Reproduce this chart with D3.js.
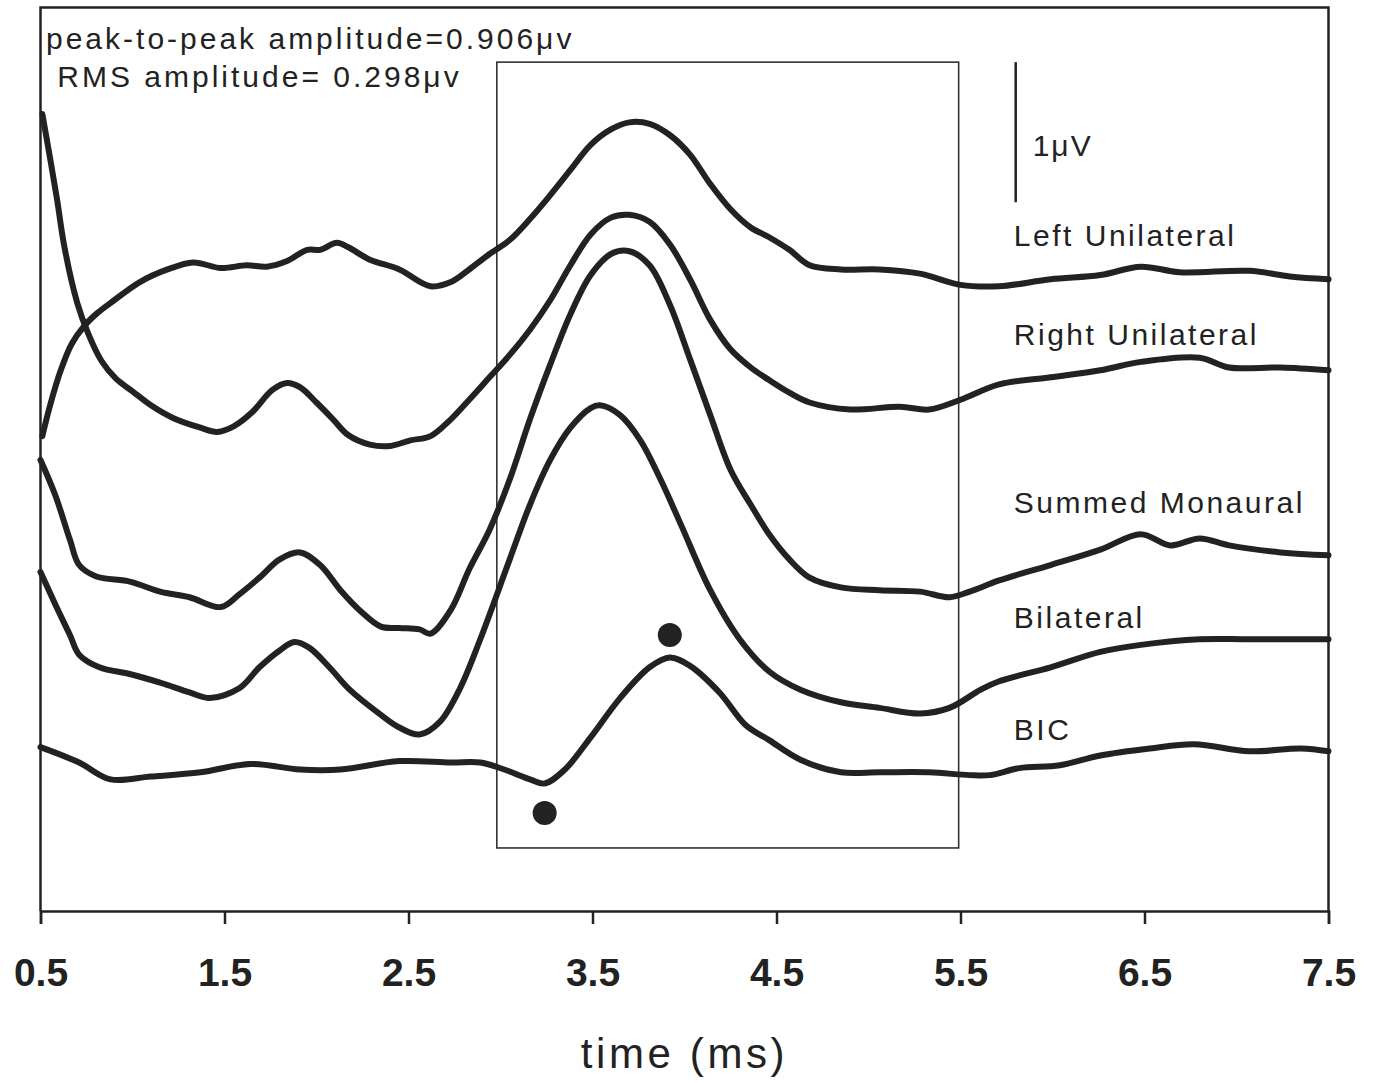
<!DOCTYPE html>
<html>
<head>
<meta charset="utf-8">
<script src="https://cdn.jsdelivr.net/npm/d3@7"></script>
<style>
  body { margin: 0; background: #fff; }
  svg text { font-family: "Liberation Sans", Arial, sans-serif; fill: #222; }
</style>
</head>
<body>
<svg id="chart"></svg>
<script>
// time in ms, amplitude in microvolts
const leftUnilateral = [
  [0.51, 3.39], [0.55, 3.60], [0.61, 3.86], [0.67, 4.05], [0.74, 4.18], [0.81, 4.27],
  [0.88, 4.34], [1.04, 4.49], [1.19, 4.58], [1.33, 4.63], [1.48, 4.59], [1.62, 4.61],
  [1.73, 4.60], [1.84, 4.64], [1.95, 4.72], [2.02, 4.72], [2.11, 4.77], [2.17, 4.74],
  [2.29, 4.65], [2.45, 4.58], [2.62, 4.46], [2.73, 4.49], [2.83, 4.58], [2.94, 4.69],
  [3.05, 4.79], [3.16, 4.94], [3.27, 5.11], [3.38, 5.29], [3.49, 5.47], [3.60, 5.58],
  [3.70, 5.63], [3.81, 5.62], [3.92, 5.54], [4.03, 5.40], [4.14, 5.19], [4.25, 5.01],
  [4.36, 4.88], [4.46, 4.81], [4.57, 4.72], [4.68, 4.61], [4.85, 4.58], [5.06, 4.58],
  [5.28, 4.55], [5.50, 4.47], [5.71, 4.46], [5.99, 4.51], [6.26, 4.54], [6.48, 4.60],
  [6.69, 4.56], [7.07, 4.57], [7.29, 4.53], [7.50, 4.51]
];

const rightUnilateral = [
  [0.51, 5.69], [0.55, 5.39], [0.59, 5.08], [0.63, 4.74], [0.70, 4.34], [0.76, 4.12],
  [0.83, 3.93], [0.91, 3.80], [1.00, 3.71], [1.10, 3.61], [1.22, 3.52], [1.37, 3.45],
  [1.46, 3.42], [1.55, 3.46], [1.65, 3.56], [1.76, 3.72], [1.84, 3.77], [1.91, 3.74],
  [2.00, 3.63], [2.09, 3.51], [2.17, 3.40], [2.29, 3.33], [2.40, 3.32], [2.51, 3.36],
  [2.62, 3.39], [2.73, 3.51], [2.83, 3.65], [2.94, 3.81], [3.05, 3.97], [3.16, 4.15],
  [3.27, 4.36], [3.38, 4.61], [3.49, 4.83], [3.60, 4.95], [3.70, 4.97], [3.81, 4.92],
  [3.92, 4.76], [4.03, 4.51], [4.14, 4.22], [4.25, 4.01], [4.36, 3.88], [4.46, 3.79],
  [4.57, 3.70], [4.68, 3.63], [4.90, 3.58], [5.17, 3.60], [5.33, 3.58], [5.50, 3.65],
  [5.71, 3.76], [5.99, 3.81], [6.26, 3.86], [6.48, 3.92], [6.80, 3.95], [6.96, 3.88],
  [7.24, 3.88], [7.50, 3.86]
];

const summedMonaural = [
  [0.50, 3.22], [0.58, 2.97], [0.66, 2.65], [0.71, 2.47], [0.80, 2.39], [0.99, 2.35],
  [1.15, 2.28], [1.31, 2.24], [1.48, 2.17], [1.58, 2.26], [1.69, 2.38], [1.80, 2.51],
  [1.91, 2.56], [2.02, 2.47], [2.13, 2.29], [2.24, 2.14], [2.35, 2.03], [2.45, 2.02],
  [2.56, 2.01], [2.62, 1.98], [2.73, 2.15], [2.83, 2.44], [2.94, 2.72], [3.05, 3.08],
  [3.16, 3.51], [3.27, 3.90], [3.38, 4.26], [3.49, 4.54], [3.60, 4.69], [3.70, 4.71],
  [3.81, 4.61], [3.92, 4.33], [4.03, 3.94], [4.14, 3.54], [4.25, 3.15], [4.36, 2.90],
  [4.46, 2.69], [4.57, 2.51], [4.68, 2.38], [4.85, 2.31], [5.06, 2.29], [5.28, 2.28],
  [5.44, 2.24], [5.55, 2.28], [5.71, 2.36], [5.99, 2.47], [6.26, 2.58], [6.48, 2.69],
  [6.64, 2.61], [6.80, 2.66], [6.96, 2.61], [7.24, 2.56], [7.50, 2.54]
];

const bilateral = [
  [0.50, 2.42], [0.58, 2.19], [0.66, 1.97], [0.71, 1.83], [0.82, 1.74], [0.99, 1.69],
  [1.15, 1.63], [1.31, 1.56], [1.42, 1.52], [1.58, 1.59], [1.69, 1.74], [1.80, 1.86],
  [1.88, 1.92], [1.96, 1.88], [2.07, 1.74], [2.18, 1.58], [2.35, 1.40], [2.45, 1.31],
  [2.56, 1.26], [2.67, 1.35], [2.78, 1.59], [2.89, 1.94], [3.05, 2.51], [3.16, 2.90],
  [3.27, 3.22], [3.38, 3.45], [3.49, 3.59], [3.54, 3.61], [3.65, 3.54], [3.76, 3.36],
  [3.87, 3.08], [3.98, 2.76], [4.14, 2.29], [4.30, 1.94], [4.46, 1.71], [4.63, 1.58],
  [4.85, 1.49], [5.06, 1.45], [5.28, 1.41], [5.44, 1.45], [5.61, 1.58], [5.71, 1.64],
  [5.99, 1.74], [6.26, 1.85], [6.48, 1.90], [6.80, 1.94], [7.07, 1.94], [7.50, 1.94]
];

const bic = [
  [0.50, 1.17], [0.71, 1.06], [0.88, 0.94], [1.10, 0.96], [1.37, 0.99], [1.64, 1.05],
  [1.91, 1.01], [2.13, 1.01], [2.45, 1.07], [2.73, 1.06], [2.89, 1.06], [3.02, 1.01],
  [3.16, 0.94], [3.24, 0.91], [3.35, 1.01], [3.49, 1.24], [3.65, 1.52], [3.81, 1.74],
  [3.92, 1.81], [4.03, 1.75], [4.19, 1.56], [4.33, 1.33], [4.46, 1.22], [4.63, 1.08],
  [4.85, 0.99], [5.06, 0.99], [5.33, 0.99], [5.55, 0.97], [5.66, 0.97], [5.82, 1.02],
  [6.04, 1.04], [6.26, 1.11], [6.53, 1.16], [6.77, 1.19], [7.07, 1.14], [7.35, 1.16],
  [7.50, 1.14]
];

// BIC trough and peak markers
const bicMarkers = [[3.24, 0.70], [3.92, 1.97]];

// analysis window (ms) and its amplitude extent
const windowTime = [2.98, 5.49];
const windowAmp = [0.45, 6.06];

// 1 uV scale bar
const scaleBarTime = 5.80;
const scaleBarAmp = [5.06, 6.06];

const seriesNames = ["Left Unilateral", "Right Unilateral", "Summed Monaural", "Bilateral", "BIC"];
const tickValues = [0.5, 1.5, 2.5, 3.5, 4.5, 5.5, 6.5, 7.5];
const notes = ["peak-to-peak amplitude=0.906\u03bcv", " RMS amplitude= 0.298\u03bcv"];

var w = 1374,
    h = 1083;

var margin = { top: 7.5, left: 40.5, right: 1328.5, bottom: 911 };

var svg = d3.select("#chart")
  .attr("width", w)
  .attr("height", h);

svg.append("rect")
  .attr("width", w)
  .attr("height", h)
  .attr("fill", "#fff");

var x = d3.scaleLinear()
  .domain([0.5, 7.5])
  .range([margin.left, margin.right]);

// y has no drawn axis; 1 uV is 140px in the original
var y = d3.scaleLinear()
  .domain([0, 6.45])
  .range([margin.bottom, margin.top]);

// FRAME
svg.append("path")
  .attr("d", "M" + margin.left + "," + margin.bottom + "V" + margin.top + "H" + margin.right + "V" + margin.bottom)
  .attr("fill", "none")
  .attr("stroke", "#222")
  .attr("stroke-width", 2.5);

// X AXIS
var xAxis = d3.axisBottom(x)
  .tickValues(tickValues)
  .tickFormat(d3.format(".1f"))
  .tickSize(13)
  .tickPadding(34);

var gx = svg.append("g")
  .attr("transform", "translate(0," + margin.bottom + ")")
  .call(xAxis);

gx.select(".domain").attr("stroke", "#222").attr("stroke-width", 2.5);
gx.selectAll(".tick line").attr("stroke", "#222").attr("stroke-width", 2.5);
gx.selectAll(".tick text")
  .attr("fill", "#222")
  .style("font-family", "'Liberation Sans', Arial, sans-serif")
  .style("font-size", "39px")
  .style("font-weight", "bold");

svg.append("text")
  .attr("x", x(4.0))
  .attr("y", 1068)
  .attr("text-anchor", "middle")
  .style("font-size", "42px")
  .style("letter-spacing", "3.6px")
  .text("time (ms)");

// ANALYSIS WINDOW
svg.append("rect")
  .attr("x", x(windowTime[0]))
  .attr("y", y(windowAmp[1]))
  .attr("width", x(windowTime[1]) - x(windowTime[0]))
  .attr("height", y(windowAmp[0]) - y(windowAmp[1]))
  .attr("fill", "none")
  .attr("stroke", "#333")
  .attr("stroke-width", 1.6);

// TRACES
var line = d3.line()
  .x(function(d) { return x(d[0]); })
  .y(function(d) { return y(d[1]); })
  .curve(d3.curveCatmullRom.alpha(0.5));

var traces = [leftUnilateral, rightUnilateral, summedMonaural, bilateral, bic];

svg.selectAll(".trace")
  .data(traces)
  .enter().append("path")
    .attr("class", "trace")
    .attr("d", line)
    .attr("fill", "none")
    .attr("stroke", "#222")
    .attr("stroke-width", 6)
    .attr("stroke-linecap", "round")
    .attr("stroke-linejoin", "round");

svg.selectAll(".marker")
  .data(bicMarkers)
  .enter().append("circle")
    .attr("class", "marker")
    .attr("cx", function(d) { return x(d[0]); })
    .attr("cy", function(d) { return y(d[1]); })
    .attr("r", 12)
    .attr("fill", "#222");

// SERIES LABELS (baseline amplitude for each name)
var labelAmp = [4.75, 4.04, 2.84, 2.02, 1.22];

svg.selectAll(".series-label")
  .data(seriesNames)
  .enter().append("text")
    .attr("class", "series-label")
    .attr("x", x(5.79))
    .attr("y", function(d, i) { return y(labelAmp[i]); })
    .style("font-size", "30px")
    .style("letter-spacing", "2.5px")
    .text(function(d) { return d; });

// SCALE BAR
svg.append("line")
  .attr("x1", x(scaleBarTime))
  .attr("x2", x(scaleBarTime))
  .attr("y1", y(scaleBarAmp[0]))
  .attr("y2", y(scaleBarAmp[1]))
  .attr("stroke", "#222")
  .attr("stroke-width", 2.5);

svg.append("text")
  .attr("x", x(scaleBarTime) + 17)
  .attr("y", y(scaleBarAmp[0]) - 46)
  .style("font-size", "30px")
  .style("letter-spacing", "2px")
  .text("1\u03bcV");

// AMPLITUDE NOTES
svg.selectAll(".note")
  .data(notes)
  .enter().append("text")
    .attr("class", "note")
    .attr("x", 46)
    .attr("y", function(d, i) { return 49 + i * 38; })
    .attr("xml:space", "preserve")
    .style("white-space", "pre")
    .style("font-size", "30px")
    .style("letter-spacing", "3px")
    .text(function(d) { return d; });
</script>
</body>
</html>
